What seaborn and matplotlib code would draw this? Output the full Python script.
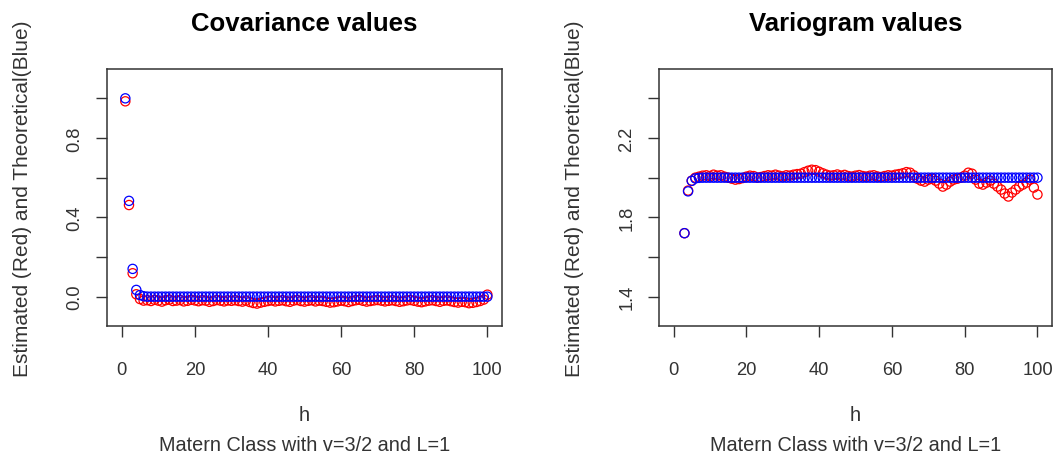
import numpy as np
import matplotlib
matplotlib.use("Agg")
import matplotlib.pyplot as plt
import seaborn as sns

# lag index for each estimate
h_cov = np.arange(1, 101)
h_var = np.arange(3, 101)

# covariance: estimated (red) / theoretical (blue)
cov_est = [
    0.985, 0.462, 0.118, 0.012, -0.012, -0.020, -0.018, -0.022, -0.016, -0.020,
    -0.025, -0.018, -0.015, -0.022, -0.020, -0.017, -0.024, -0.021, -0.016, -0.019,
    -0.023, -0.018, -0.020, -0.026, -0.022, -0.017, -0.020, -0.024, -0.019, -0.021,
    -0.018, -0.022, -0.025, -0.020, -0.027, -0.032, -0.035, -0.030, -0.026, -0.022,
    -0.019, -0.024, -0.021, -0.018, -0.023, -0.026, -0.020, -0.017, -0.022, -0.025,
    -0.021, -0.018, -0.024, -0.020, -0.022, -0.026, -0.030, -0.028, -0.024, -0.020,
    -0.023, -0.027, -0.022, -0.018, -0.016, -0.021, -0.025, -0.022, -0.019, -0.017,
    -0.020, -0.024, -0.021, -0.018, -0.022, -0.026, -0.023, -0.019, -0.017, -0.021,
    -0.025, -0.028, -0.024, -0.020, -0.018, -0.022, -0.026, -0.021, -0.019, -0.023,
    -0.027, -0.030, -0.026, -0.028, -0.033, -0.031, -0.027, -0.022, -0.015, 0.010,
]
cov_theo = [
    1.0, 0.483, 0.140, 0.034, 0.008, 0.002, 0.0, 0.0, 0.0, 0.0,
    0.0, 0.0, 0.0, 0.0, 0.0, 0.0, 0.0, 0.0, 0.0, 0.0,
    0.0, 0.0, 0.0, 0.0, 0.0, 0.0, 0.0, 0.0, 0.0, 0.0,
    0.0, 0.0, 0.0, 0.0, 0.0, 0.0, 0.0, 0.0, 0.0, 0.0,
    0.0, 0.0, 0.0, 0.0, 0.0, 0.0, 0.0, 0.0, 0.0, 0.0,
    0.0, 0.0, 0.0, 0.0, 0.0, 0.0, 0.0, 0.0, 0.0, 0.0,
    0.0, 0.0, 0.0, 0.0, 0.0, 0.0, 0.0, 0.0, 0.0, 0.0,
    0.0, 0.0, 0.0, 0.0, 0.0, 0.0, 0.0, 0.0, 0.0, 0.0,
    0.0, 0.0, 0.0, 0.0, 0.0, 0.0, 0.0, 0.0, 0.0, 0.0,
    0.0, 0.0, 0.0, 0.0, 0.0, 0.0, 0.0, 0.0, 0.0, 0.0,
]

# variogram: estimated (red) / theoretical (blue), lags 3..100
var_est = [
    1.720, 1.935, 1.985, 2.000, 2.005, 2.010, 2.012, 2.008,
    2.015, 2.010, 2.012, 2.005, 2.000, 1.995, 1.990, 1.993, 1.998, 2.005,
    2.010, 2.008, 2.000, 2.003, 2.008, 2.012, 2.010, 2.015, 2.010, 2.006,
    2.012, 2.010, 2.015, 2.018, 2.020, 2.028, 2.035, 2.040, 2.038, 2.030,
    2.022, 2.015, 2.010, 2.012, 2.016, 2.010, 2.014, 2.008, 2.005, 2.010,
    2.013, 2.008, 2.005, 2.010, 2.012, 2.006, 2.003, 2.008, 2.012, 2.010,
    2.015, 2.018, 2.022, 2.028, 2.025, 2.012, 1.995, 1.985, 1.980, 1.990,
    1.995, 1.985, 1.970, 1.955, 1.965, 1.980, 1.990, 1.995, 2.000, 2.010,
    2.025, 2.020, 1.990, 1.970, 1.965, 1.975, 1.985, 1.970, 1.955, 1.940,
    1.920, 1.905, 1.925, 1.940, 1.955, 1.965, 1.975, 1.990, 1.950, 1.915,
]
var_theo = [
    1.720, 1.931, 1.984, 1.996, 1.999, 2.0, 2.0, 2.0,
    2.0, 2.0, 2.0, 2.0, 2.0, 2.0, 2.0, 2.0, 2.0, 2.0,
    2.0, 2.0, 2.0, 2.0, 2.0, 2.0, 2.0, 2.0, 2.0, 2.0,
    2.0, 2.0, 2.0, 2.0, 2.0, 2.0, 2.0, 2.0, 2.0, 2.0,
    2.0, 2.0, 2.0, 2.0, 2.0, 2.0, 2.0, 2.0, 2.0, 2.0,
    2.0, 2.0, 2.0, 2.0, 2.0, 2.0, 2.0, 2.0, 2.0, 2.0,
    2.0, 2.0, 2.0, 2.0, 2.0, 2.0, 2.0, 2.0, 2.0, 2.0,
    2.0, 2.0, 2.0, 2.0, 2.0, 2.0, 2.0, 2.0, 2.0, 2.0,
    2.0, 2.0, 2.0, 2.0, 2.0, 2.0, 2.0, 2.0, 2.0, 2.0,
    2.0, 2.0, 2.0, 2.0, 2.0, 2.0, 2.0, 2.0, 2.0, 2.0,
]

x_ticks = [0, 20, 40, 60, 80, 100]
cov_ticks = [0.0, 0.2, 0.4, 0.6, 0.8, 1.0]
cov_labels = ["0.0", "", "0.4", "", "0.8", ""]
var_ticks = [1.4, 1.6, 1.8, 2.0, 2.2, 2.4]
var_labels = ["1.4", "", "1.8", "", "2.2", ""]

sns.set_theme(style="ticks")
plt.rcParams["font.family"] = ["Liberation Sans", "DejaVu Sans"]

fig = plt.figure(figsize=(10.62, 4.56), dpi=100)
ax1 = fig.add_axes([0.1008, 0.2829, 0.3719, 0.5636])
ax2 = fig.add_axes([0.6205, 0.2829, 0.3701, 0.5636])


def panel(ax, h, est, theo, title, yticks, ylabels, ylim):
    sns.scatterplot(x=h, y=est, ax=ax, marker="o", s=44, fc="none",
                    ec="#ff0000", linewidth=0.9, zorder=2)
    sns.scatterplot(x=h, y=theo, ax=ax, marker="o", s=44, fc="none",
                    ec="#0000ff", linewidth=0.9, zorder=3)
    ax.set_xlim(-4, 104)
    ax.set_ylim(*ylim)
    ax.set_xticks(x_ticks)
    ax.set_yticks(yticks)
    ax.set_yticklabels(ylabels, rotation=90, va="center")
    ax.tick_params(axis="both", length=8, width=1, color="#333333",
                   labelsize=13.2, labelcolor="#333333")
    ax.tick_params(axis="x", pad=17)
    ax.tick_params(axis="y", pad=9)
    for sp in ax.spines.values():
        sp.set_visible(True)
        sp.set_color("#333333")
        sp.set_linewidth(1.1)
    ax.set_title(title, fontsize=18.5, fontweight="bold", color="black", pad=28)
    ax.set_xlabel("h", fontsize=14.3, color="#333333", labelpad=20)
    ax.set_ylabel("Estimated (Red) and Theoretical(Blue)", fontsize=15,
                  color="#333333", labelpad=25)
    ax.text(0.5, -0.46, "Matern Class with v=3/2 and L=1", transform=ax.transAxes,
            ha="center", va="center", fontsize=14.3, color="#333333")


panel(ax1, h_cov, cov_est, cov_theo, "Covariance values",
      cov_ticks, cov_labels, (-0.148, 1.148))
panel(ax2, h_var, var_est, var_theo, "Variogram values",
      var_ticks, var_labels, (1.252, 2.548))

fig.savefig("out.png", dpi=100)
